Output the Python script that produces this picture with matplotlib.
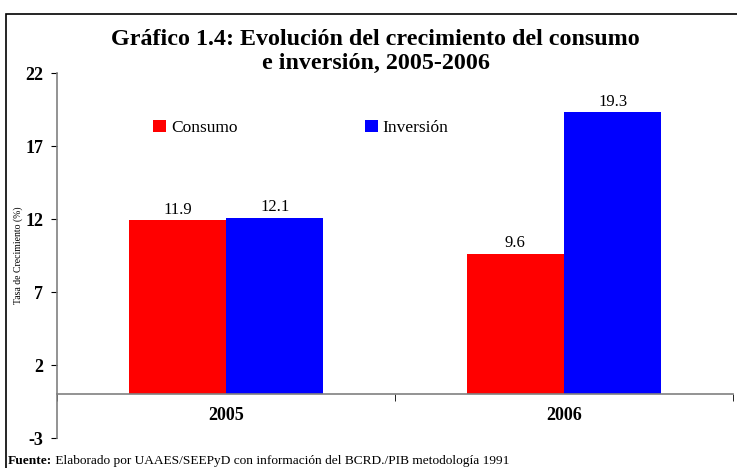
"""Gráfico 1.4: crecimiento del consumo e inversión, 2005-2006."""
import matplotlib
matplotlib.use('Agg')
import matplotlib.pyplot as plt
import matplotlib.patches as mpatches
import numpy as np

plt.rcParams['font.family'] = ['Liberation Serif', 'DejaVu Serif']

# Data
years = ['2005', '2006']
consumo = [11.9, 9.6]
inversion = [12.1, 19.3]
y_ticks = [-3, 2, 7, 12, 17, 22]

fig = plt.figure(figsize=(7.37, 4.68), dpi=100)
ax = fig.add_axes([0.0773, 0.0641, 0.9173, 0.7799])

x = np.arange(len(years))
width = 0.288
ax.bar(x - width / 2, consumo, width, color='#ff0000', label='Consumo', zorder=2)
ax.bar(x + width / 2, inversion, width, color='#0000ff', label='Inversión', zorder=2)

# Value labels above the bars
for xi, v in zip(x - width / 2, consumo):
    ax.text(xi, v + 0.2, f'{v:.1f}', ha='center', va='bottom', fontsize=12)
for xi, v in zip(x + width / 2, inversion):
    ax.text(xi, v + 0.2, f'{v:.1f}', ha='center', va='bottom', fontsize=12)

ax.set_xlim(-0.5, 1.5)
ax.set_ylim(-3, 22)
ax.set_yticks(y_ticks)
ax.set_yticklabels([str(t) for t in y_ticks], fontsize=13, fontweight='bold')

# Category axis sits on the zero line
ax.spines['top'].set_visible(False)
ax.spines['right'].set_visible(False)
ax.spines['bottom'].set_position(('data', 0))
for s in ('left', 'bottom'):
    ax.spines[s].set_color('#808080')
    ax.spines[s].set_linewidth(1.2)
    ax.spines[s].set_zorder(3)

ax.set_xticks(x)
ax.set_xticklabels(years, fontsize=13, fontweight='bold')
ax.tick_params(axis='x', which='major', length=0, pad=9)
ax.set_xticks([-0.5, 0.5, 1.5], minor=True)
ax.tick_params(axis='x', which='minor', length=5, direction='out', color='black')
ax.tick_params(axis='y', length=4, direction='out', color='black', pad=6)

ax.set_ylabel('Tasa de Crecimiento (%)', fontsize=7)
ax.yaxis.set_label_coords(-0.05, 0.5)

ax.legend(loc='upper left', bbox_to_anchor=(0.119, 0.915), ncol=2, frameon=False,
          fontsize=12.5, handlelength=0.75, handleheight=0.75, handletextpad=0.3,
          columnspacing=7.3)

fig.text(0.51, 0.89, 'Gráfico 1.4: Evolución del crecimiento del consumo\ne inversión, 2005-2006',
         ha='center', va='center', fontsize=17.3, fontweight='bold', linespacing=1.2)

# Footer
t1 = fig.text(0.011, 0.002, 'Fuente:', fontsize=9.6, fontweight='bold', va='bottom')
ax.annotate(' Elaborado por UAAES/SEEPyD con información del BCRD./PIB metodología 1991',
            xy=(1, 0), xycoords=t1, va='bottom', ha='left', fontsize=9.6)

# Frame lines on top and left edges
fig.add_artist(mpatches.Rectangle((6 / 737, -0.1), 1.2, 1.1 - 14 / 468,
                                  transform=fig.transFigure, fill=False,
                                  edgecolor='black', linewidth=1.2))

fig.savefig('out.png', dpi=100)
